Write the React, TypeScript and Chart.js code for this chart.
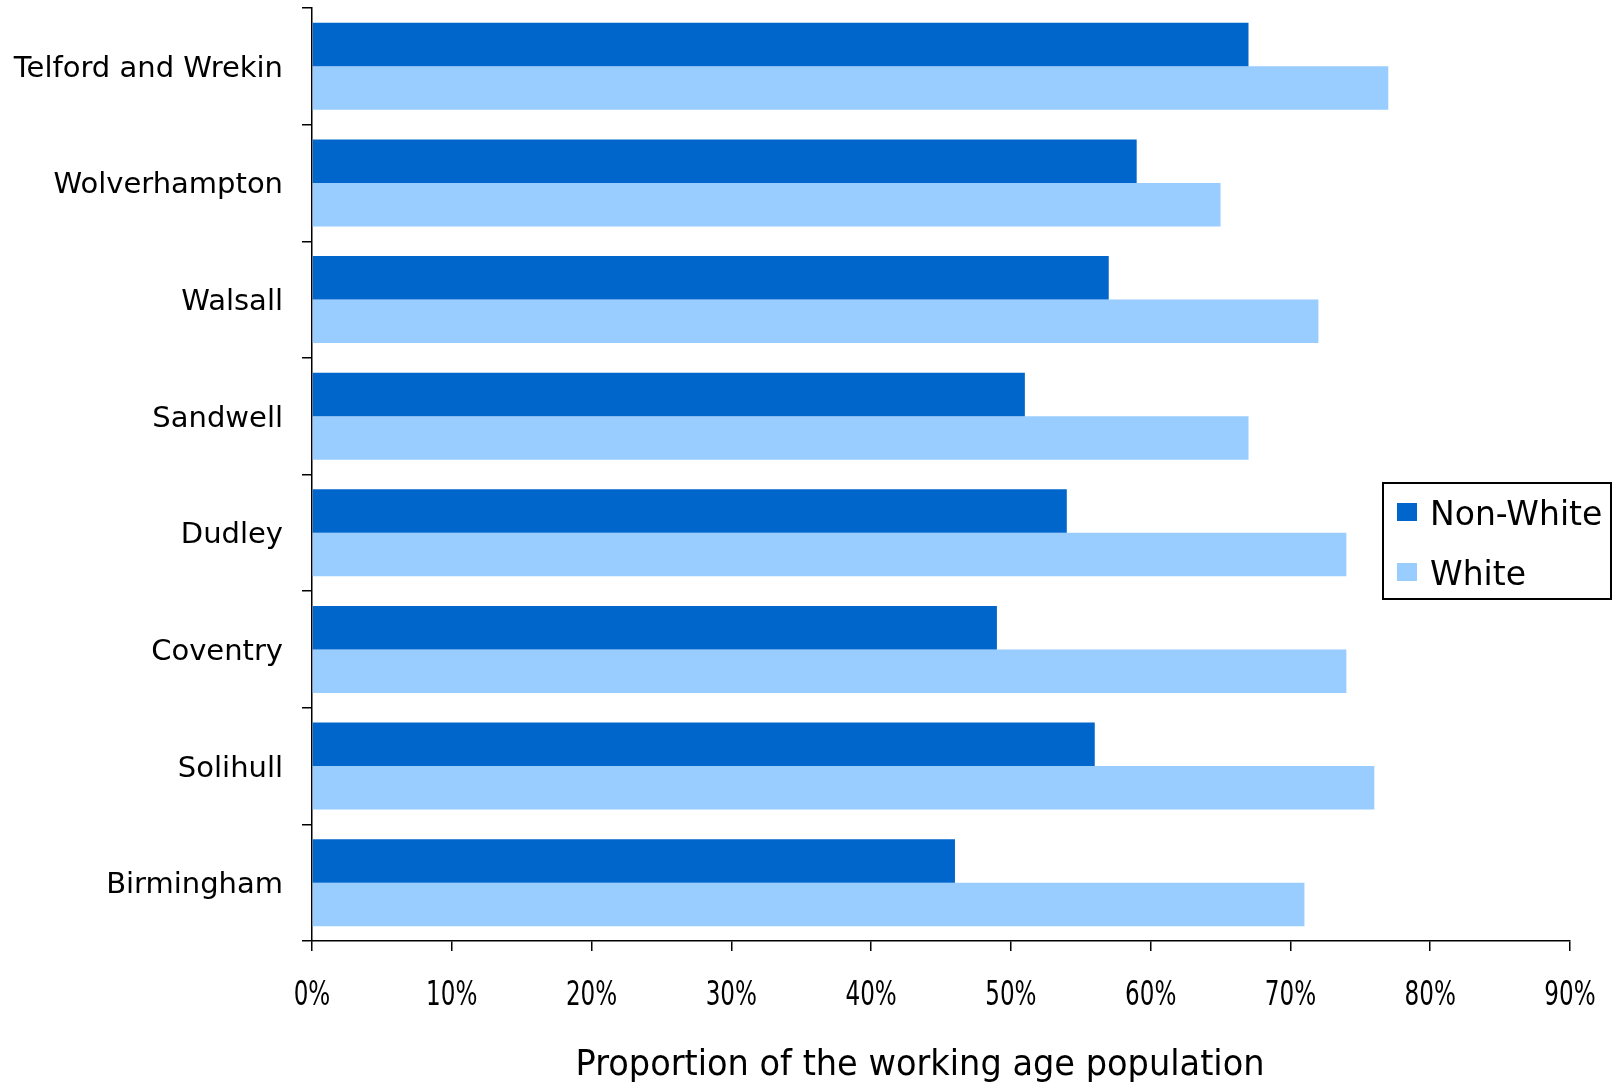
import React, { useEffect, useRef } from "react";
import { Chart, registerables } from "chart.js";

Chart.register(...registerables);

const categories = [
  "Telford and Wrekin",
  "Wolverhampton",
  "Walsall",
  "Sandwell",
  "Dudley",
  "Coventry",
  "Solihull",
  "Birmingham",
];
const nonWhite = [67, 59, 57, 51, 54, 49, 56, 46];
const white = [77, 65, 72, 67, 74, 74, 76, 71];
const seriesNames = ["Non-White", "White"];
const seriesColors = ["#0066CC", "#99CCFF"];
const xMin = 0;
const xMax = 90;
const xStep = 10;
const axisTitle = "Proportion of the working age population";

const FONT = "'DejaVu Sans', Verdana, sans-serif";

const legendPlugin = {
  id: "boxLegend",
  afterDraw(chart: any) {
    const ctx = chart.ctx;
    ctx.save();
    const bx = 1383, by = 483, bw = 228, bh = 116;
    ctx.fillStyle = "#ffffff";
    ctx.fillRect(bx, by, bw, bh);
    ctx.lineWidth = 2;
    ctx.strokeStyle = "#000000";
    ctx.strokeRect(bx, by, bw, bh);
    const baselines = [525, 585];
    chart.data.datasets.forEach((ds: any, i: number) => {
      ctx.fillStyle = ds.backgroundColor;
      ctx.fillRect(1397, baselines[i] - 22, 20, 18);
      ctx.fillStyle = "#000000";
      ctx.font = `33px ${FONT}`;
      ctx.textAlign = "left";
      ctx.textBaseline = "alphabetic";
      ctx.fillText(ds.label, 1430, baselines[i]);
    });
    ctx.restore();
  },
};

const textPlugin = {
  id: "xTexts",
  afterDraw(chart: any) {
    const ctx = chart.ctx;
    const area = chart.chartArea;
    const xs = chart.scales.x;
    ctx.save();
    ctx.fillStyle = "#000000";
    ctx.textBaseline = "alphabetic";
    ctx.textAlign = "center";
    // tick labels (condensed)
    ctx.font = `33px ${FONT}`;
    xs.ticks.forEach((t: any, i: number) => {
      const x = xs.getPixelForTick(i);
      ctx.save();
      ctx.translate(x, 1005);
      ctx.scale(0.7, 1);
      ctx.fillText(`${t.value}%`, 0, 0);
      ctx.restore();
    });
    // axis title
    ctx.font = `36px ${FONT}`;
    const w = ctx.measureText(axisTitle).width;
    const sx = 689 / w;
    ctx.save();
    ctx.translate((area.left + area.right) / 2 - 21, 1075);
    ctx.scale(sx, 1);
    ctx.fillText(axisTitle, 0, 0);
    ctx.restore();
    ctx.restore();
  },
};

export default function App() {
  const ref = useRef<HTMLCanvasElement | null>(null);

  useEffect(() => {
    if (!ref.current) return;
    const chart = new Chart(ref.current, {
      type: "bar",
      data: {
        labels: categories,
        datasets: [
          {
            label: seriesNames[0],
            data: nonWhite,
            backgroundColor: seriesColors[0],
            borderWidth: 0,
            categoryPercentage: 0.745,
            barPercentage: 1,
          },
          {
            label: seriesNames[1],
            data: white,
            backgroundColor: seriesColors[1],
            borderWidth: 0,
            categoryPercentage: 0.745,
            barPercentage: 1,
          },
        ],
      },
      options: {
        indexAxis: "y",
        animation: false,
        responsive: true,
        maintainAspectRatio: false,
        layout: { padding: { top: 8, right: 51, left: 0, bottom: 0 } },
        plugins: {
          legend: { display: false },
          tooltip: { enabled: false },
        },
        scales: {
          x: {
            min: xMin,
            max: xMax,
            ticks: {
              stepSize: xStep,
              display: false,
            },
            grid: {
              drawOnChartArea: false,
              drawTicks: true,
              tickLength: 10,
              color: "#000000",
              lineWidth: 1.5,
            },
            border: { display: true, color: "#000000", width: 1.5 },
            afterFit: (scale: any) => {
              scale.height = 143;
              scale.paddingLeft = 0;
              scale.paddingRight = 0;
            },
          },
          y: {
            ticks: {
              color: "#000000",
              font: { family: FONT, size: 29 },
              padding: 19,
              labelOffset: 3,
            },
            grid: {
              offset: true,
              drawOnChartArea: false,
              drawTicks: true,
              tickLength: 10,
              color: "#000000",
              lineWidth: 1.5,
            },
            border: { display: true, color: "#000000", width: 1.5 },
            afterFit: (scale: any) => {
              scale.width = 312;
              scale.paddingTop = 0;
              scale.paddingBottom = 0;
            },
          },
        },
      },
      plugins: [legendPlugin, textPlugin],
    });
    return () => chart.destroy();
  }, []);

  return (
    <div
      style={{
        position: "fixed",
        left: 0,
        top: 0,
        width: 1621,
        height: 1084,
        background: "#ffffff",
      }}
    >
      <canvas ref={ref} />
    </div>
  );
}
